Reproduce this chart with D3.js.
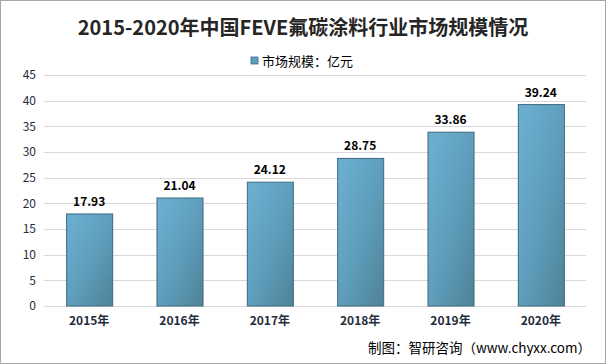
<!DOCTYPE html>
<html><head><meta charset="utf-8">
<script src="https://cdn.jsdelivr.net/npm/d3@7/dist/d3.min.js"></script>
<style>body{margin:0;background:#fff}svg{display:block}</style>
</head><body>
<svg id="c" width="606" height="364"></svg>
<script>
const categories = ["2015年","2016年","2017年","2018年","2019年","2020年"];
const values = [17.93,21.04,24.12,28.75,33.86,39.24];
const yTicks = [0,5,10,15,20,25,30,35,40,45];
const title = "2015-2020年中国FEVE氟碳涂料行业市场规模情况";
const legendLabel = "市场规模：亿元";
const source = "制图：智研咨询（www.chyxx.com）";

const svg = d3.select("#c");
const font = "'Noto Sans CJK SC','Noto Sans',sans-serif";
svg.append("rect").attr("x",0.5).attr("y",0.5).attr("width",605).attr("height",363)
  .attr("fill","#fff").attr("stroke","#a6a6a6");

const defs = svg.append("defs");
const g1 = defs.append("linearGradient").attr("id","bg").attr("x1","0").attr("y1","0").attr("x2","1").attr("y2","1");
g1.append("stop").attr("offset","0%").attr("stop-color","#6cb0d0");
g1.append("stop").attr("offset","50%").attr("stop-color","#5f9fbd");
g1.append("stop").attr("offset","100%").attr("stop-color","#4f8297");

const x = d3.scaleBand().domain(categories).range([44,586]).paddingInner(0.49).paddingOuter(0.245);
const y = d3.scaleLinear().domain([0,45]).range([306,75]);

const grid = svg.append("g");
grid.selectAll("line").data(yTicks).join("line")
  .attr("x1",44).attr("x2",586).attr("y1",d=>Math.round(y(d))+0.5).attr("y2",d=>Math.round(y(d))+0.5)
  .attr("stroke","#d9d9d9").attr("stroke-width",1);

const yAxis = svg.append("g").attr("transform","translate(44,0)")
  .call(d3.axisLeft(y).tickValues(yTicks).tickSize(0).tickPadding(8));
yAxis.select(".domain").remove();
yAxis.selectAll("text").attr("font-family",font).attr("font-size",12).attr("fill","#1f2d3d");

svg.append("g").selectAll("rect").data(values).join("rect")
  .attr("x",(d,i)=>x(categories[i])+0.5).attr("width",x.bandwidth())
  .attr("y",d=>y(d)).attr("height",d=>y(0)-y(d))
  .attr("fill","url(#bg)").attr("stroke","#3e6a80").attr("stroke-width",1);

svg.append("g").selectAll("text").data(values).join("text")
  .attr("x",(d,i)=>x(categories[i])+x.bandwidth()/2).attr("y",d=>y(d)-8)
  .attr("text-anchor","middle").attr("font-family",font).attr("font-size",12).attr("font-weight","bold")
  .attr("fill","#000").text(d=>d.toFixed(2));

const xAxis = svg.append("g").attr("transform","translate(0,306)")
  .call(d3.axisBottom(x).tickSize(0).tickPadding(10));
xAxis.select(".domain").remove();
xAxis.selectAll("text").attr("font-family",font).attr("font-size",12).attr("font-weight","bold").attr("fill","#1f2d3d");

svg.append("text").attr("x",303).attr("y",35).attr("text-anchor","middle")
  .attr("font-family",font).attr("font-size",20).attr("font-weight","bold").attr("fill","#262626").text(title);

svg.append("rect").attr("x",251).attr("y",57).attr("width",7).attr("height",7)
  .attr("fill","#5f9fbd").attr("stroke","#3e6a80").attr("stroke-width",0.8);
svg.append("text").attr("x",262).attr("y",66).attr("font-family",font).attr("font-size",13)
  .attr("fill","#000").text(legendLabel);

svg.append("text").attr("x",591).attr("y",353).attr("text-anchor","end")
  .attr("font-family",font).attr("font-size",13.5).attr("fill","#000").text(source);
</script>
</body></html>
